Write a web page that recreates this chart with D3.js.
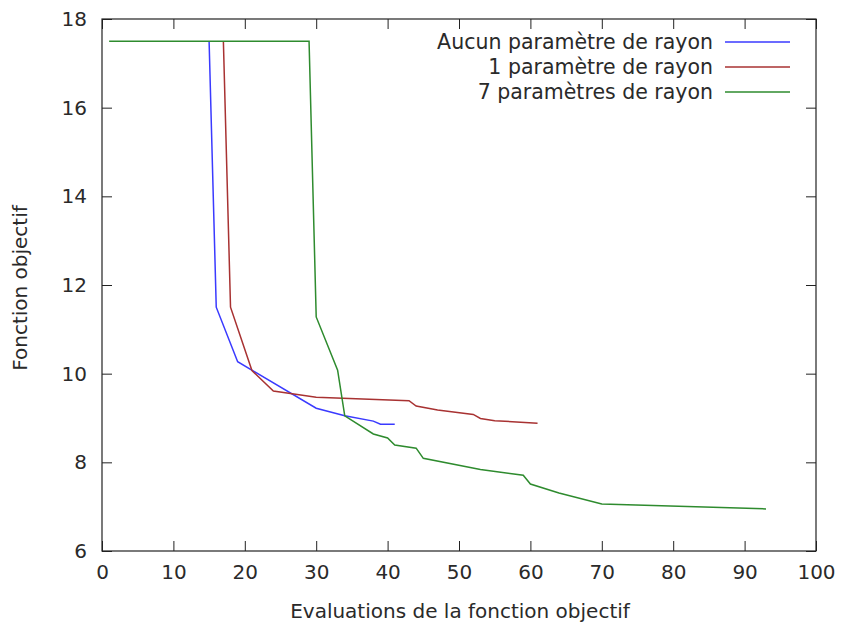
<!DOCTYPE html>
<html>
<head>
<meta charset="utf-8">
<script src="https://cdn.jsdelivr.net/npm/d3@7"></script>
<style>
  body { margin: 0; background: #fff; }
  text { font-family: "DejaVu Sans", sans-serif; fill: #2a2a2a; }
</style>
</head>
<body>
<svg id="chart" width="841" height="630"></svg>
<script>
// series: [evaluations, objective]
var aucun = [[15,17.5],[16,11.5],[19,10.27],[30,9.22],[34,9.05],[38,8.93],[39,8.86],[41,8.86]];
var unParam = [[17,17.5],[18,11.5],[21,10.07],[24,9.61],[30,9.47],[43,9.39],[44,9.27],[47,9.18],[52,9.08],[53,8.99],[55,8.94],[61,8.88]];
var septParam = [[1,17.5],[29,17.5],[30,11.28],[33,10.08],[34,9.05],[38,8.64],[40,8.55],[41,8.39],[44,8.32],[45,8.09],[53,7.84],[59,7.71],[60,7.51],[64,7.31],[70,7.06],[93,6.95]];

var seriesNames = ["Aucun paramètre de rayon", "1 paramètre de rayon", "7 paramètres de rayon"];
var seriesColors = ["#3a3aff", "#a83232", "#2e8b2e"];
var xTicks = [0,10,20,30,40,50,60,70,80,90,100];
var yTicks = [6,8,10,12,14,16,18];

var svg = d3.select("#chart");
var margin = {top: 19, right: 25, bottom: 79, left: 102};
var width = 841 - margin.left - margin.right,
    height = 630 - margin.top - margin.bottom;

var x = d3.scaleLinear().domain([0, 100]).range([margin.left, margin.left + width]);
var y = d3.scaleLinear().domain([6, 18]).range([margin.top + height, margin.top]);

// axes with inward ticks, mirrored on top and right
svg.append("g")
  .attr("transform", "translate(0," + y(6) + ")")
  .call(d3.axisBottom(x).tickValues(xTicks).tickSizeInner(-10).tickSizeOuter(0).tickPadding(14))
  .call(g => g.select(".domain").remove());
svg.append("g")
  .attr("transform", "translate(0," + y(18) + ")")
  .call(d3.axisTop(x).tickValues(xTicks).tickSizeInner(-10).tickSizeOuter(0).tickFormat(""))
  .call(g => g.select(".domain").remove());
svg.append("g")
  .attr("transform", "translate(" + x(0) + ",0)")
  .call(d3.axisLeft(y).tickValues(yTicks).tickSizeInner(-10).tickSizeOuter(0).tickPadding(15))
  .call(g => g.select(".domain").remove());
svg.append("g")
  .attr("transform", "translate(" + x(100) + ",0)")
  .call(d3.axisRight(y).tickValues(yTicks).tickSizeInner(-10).tickSizeOuter(0).tickFormat(""))
  .call(g => g.select(".domain").remove());

svg.selectAll(".tick line").attr("stroke", "#222").attr("stroke-width", 1);
svg.selectAll(".tick text")
  .style("font-family", "'DejaVu Sans', sans-serif")
  .style("font-size", "20px").attr("fill", "#2a2a2a");

svg.append("rect")
  .attr("x", x(0)).attr("y", y(18))
  .attr("width", x(100) - x(0)).attr("height", y(6) - y(18))
  .attr("fill", "none").attr("stroke", "#222").attr("stroke-width", 1.2);

// lines
var line = d3.line().x(d => x(d[0])).y(d => y(d[1]));
[aucun, unParam, septParam].forEach(function(s, i) {
  svg.append("path")
    .datum(s)
    .attr("d", line)
    .attr("fill", "none")
    .attr("stroke", seriesColors[i])
    .attr("stroke-width", 1.5);
});

// legend
var legend = svg.append("g");
seriesNames.forEach(function(name, i) {
  var ly = 42 + i * 25;
  legend.append("text")
    .attr("x", 713).attr("y", ly)
    .attr("dy", "0.35em")
    .attr("text-anchor", "end")
    .style("font-size", "20.5px")
    .text(name);
  legend.append("line")
    .attr("x1", 725).attr("x2", 790)
    .attr("y1", ly).attr("y2", ly)
    .attr("stroke", seriesColors[i])
    .attr("stroke-width", 1.5);
});

// axis titles
svg.append("text")
  .attr("x", (x(0) + x(100)) / 2 + 1).attr("y", 618)
  .attr("text-anchor", "middle")
  .style("font-size", "20px")
  .text("Evaluations de la fonction objectif");
svg.append("text")
  .attr("transform", "translate(27," + (y(12) + 3) + ") rotate(-90)")
  .attr("text-anchor", "middle")
  .style("font-size", "20px")
  .text("Fonction objectif");
</script>
</body>
</html>
